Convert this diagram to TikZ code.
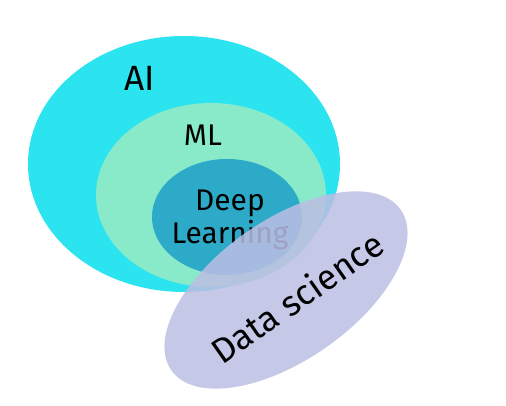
\documentclass[tikz,border=0pt]{standalone}
\usepackage{fontspec}
\setmainfont{Fira Sans}
\usepackage{tikz}
\usetikzlibrary{shapes.geometric}
\definecolor{aicol}{RGB}{44,228,240}
\definecolor{mlcol}{RGB}{136,234,200}
\definecolor{dlcol}{RGB}{44,170,200}
\definecolor{dscol}{RGB}{188,190,228}

\begin{document}
\begin{tikzpicture}[scale=1,
  blob/.style={ellipse, inner sep=0pt, draw=none},
  lbl/.style={font=\fontsize{17}{20}\selectfont, text=black, inner sep=0pt}]
\useasboundingbox (0,0) rectangle (10.12,8.12);

\node[blob, fill=aicol, minimum width=6.24cm, minimum height=5.12cm] (ai) at (3.68,4.84) {};
\node[blob, fill=mlcol, minimum width=4.6cm, minimum height=3.68cm] (ml) at (4.22,4.22) {};
\node[blob, fill=dlcol, minimum width=3.0cm, minimum height=2.32cm] (dl) at (4.54,3.78) {};

\node[lbl, font=\fontsize{20}{24}\selectfont] (ailbl) at (2.80,6.56) {AI};
\node[lbl] (mllbl) at (4.06,5.42) {ML};
\node[lbl] (deep) at (4.60,4.06) {Deep};
\node[lbl] (learn) at (4.60,3.42) {Learning};

% data science lies over the rest
\node[blob, fill=dscol, fill opacity=0.85, rotate=35, minimum width=5.6cm, minimum height=2.8cm] (ds) at (5.72,2.32) {};
\node[lbl, font=\fontsize{20}{24}\selectfont, rotate=35] (dslbl) at (5.94,2.18) {Data science};
\end{tikzpicture}
\end{document}
